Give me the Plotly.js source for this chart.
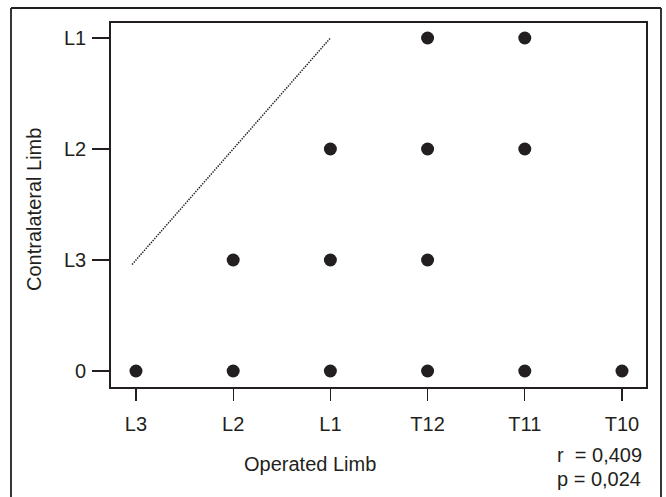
<!DOCTYPE html>
<html><head><meta charset="utf-8">
<script src="https://cdn.plot.ly/plotly-3.0.1.min.js"></script>
<style>body{margin:0;padding:0;background:#fff}#c{width:666px;height:497px}</style>
</head><body><div id="c"></div>
<script>
var xLabels = ["L3","L2","L1","T12","T11","T10"];
var yLabels = ["0","L3","L2","L1"];
var ptsX = [0,1,2,3,4,5, 1,2,3, 2,3,4, 3,4];
var ptsY = [0,0,0,0,0,0, 1,1,1, 2,2,2, 3,3];
var lineX = [-0.04, 2];
var lineY = [0.96, 3];
var xTitle = "Operated Limb";
var yTitle = "Contralateral Limb";
var statLines = ["r\u00a0 = 0,409", "p = 0,024"];

var ink = "#231f20";
var F = "Liberation Sans, Arial, sans-serif";
var L = 111, R = 646, T = 23, B = 387;
function px(x){ return (x - L) / (R - L); }
function py(y){ return (B - y) / (B - T); }

var traces = [
  {x: lineX, y: lineY, mode: "lines", type: "scatter",
   line: {color: ink, width: 1.5, dash: "1.4px,1.2px"}, hoverinfo: "skip"},
  {x: ptsX, y: ptsY, mode: "markers", type: "scatter",
   marker: {color: ink, size: 13}}
];

var layout = {
  width: 666, height: 497,
  margin: {l: L, r: 666 - R, t: T, b: 497 - B},
  showlegend: false,
  paper_bgcolor: "#fff", plot_bgcolor: "#fff",
  font: {family: F, color: ink, size: 20},
  xaxis: {
    range: [-0.257, 5.247], tickvals: [0,1,2,3,4,5], ticktext: xLabels,
    showgrid: false, zeroline: false, showline: true, mirror: true,
    linecolor: ink, linewidth: 1.8, ticks: "outside", ticklen: 12, tickwidth: 1.3,
    tickcolor: ink, tickfont: {size: 20, family: F, color: ink}, ticklabelstandoff: 6
  },
  yaxis: {
    range: [-0.144, 3.135], tickvals: [0,1,2,3], ticktext: yLabels,
    showgrid: false, zeroline: false, showline: true, mirror: true,
    linecolor: ink, linewidth: 1.8, ticks: "outside", ticklen: 17, tickwidth: 1.3,
    tickcolor: ink, tickfont: {size: 20, family: F, color: ink}, ticklabelstandoff: 2
  },
  shapes: [
    {type: "line", xref: "paper", yref: "paper", x0: px(11), x1: px(11), y0: py(8), y1: py(540),
     line: {color: ink, width: 1.8}},
    {type: "line", xref: "paper", yref: "paper", x0: px(11), x1: px(661), y0: py(8), y1: py(8),
     line: {color: ink, width: 1.8}},
    {type: "line", xref: "paper", yref: "paper", x0: px(661), x1: px(661), y0: py(8), y1: py(540),
     line: {color: ink, width: 1.8}}
  ],
  annotations: [
    {xref: "paper", yref: "paper", x: px(310), y: py(464), xanchor: "center", yanchor: "middle",
     text: xTitle, showarrow: false, font: {size: 20, family: F, color: ink}},
    {xref: "paper", yref: "paper", x: px(34), y: py(210), xanchor: "center", yanchor: "middle",
     text: yTitle, textangle: -90, showarrow: false, font: {size: 20, family: F, color: ink}},
    {xref: "paper", yref: "paper", x: px(555), y: py(455), xanchor: "left", yanchor: "middle",
     text: statLines[0], showarrow: false, font: {size: 20, family: F, color: ink}},
    {xref: "paper", yref: "paper", x: px(555), y: py(479), xanchor: "left", yanchor: "middle",
     text: statLines[1], showarrow: false, font: {size: 20, family: F, color: ink}}
  ]
};
Plotly.newPlot("c", traces, layout, {displayModeBar: false, staticPlot: true});
</script></body></html>
